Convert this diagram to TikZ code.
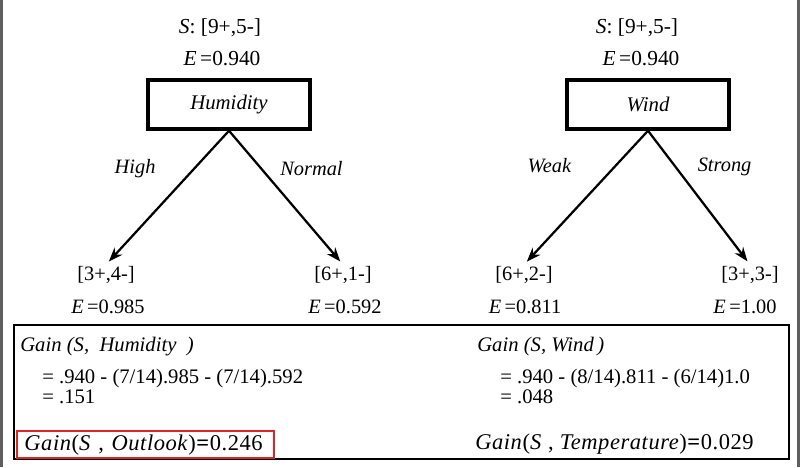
\documentclass[tikz,border=0pt]{standalone}
\usepackage{fontspec}
\setmainfont{Liberation Serif}
\usepackage{xcolor}
\definecolor{framegray}{RGB}{95, 95, 95}
\definecolor{bestred}{RGB}{225, 35, 35}
\usepackage{tikz}
\usetikzlibrary{arrows.meta}
\tikzset{
  attrbox/.style={draw=black, line width=2.6pt,
    minimum width=4.05cm, minimum height=1.22cm,
    font=\fontsize{14.8}{16}\selectfont\itshape},
  setlabel/.style={inner sep=1pt, font=\fontsize{15.2}{17}\selectfont},
  leaflabel/.style={inner sep=1pt, font=\fontsize{14.5}{16}\selectfont},
  branchlabel/.style={inner sep=1pt, font=\fontsize{14.5}{16}\selectfont\itshape},
  splitarrow/.style={-{Stealth[length=10pt,width=7.5pt]}, line width=1.6pt,
    shorten >=3pt},
  gainbox/.style={draw=black, line width=1.1pt,
    minimum width=19.375cm, minimum height=3.35cm},
  gainline/.style={anchor=west, align=left, inner sep=0pt,
    font=\fontsize{14.7}{12}\selectfont},
  bestfont/.style={inner sep=0pt, anchor=west,
    font=\fontsize{16}{18}\selectfont\addfontfeatures{LetterSpace=2.5}},
  bestbox/.style={draw=bestred, line width=1.1pt, anchor=west,
    inner xsep=5.45pt, inner ysep=1.5pt, text width=172pt,
    text height=12pt, text depth=4pt, align=left,
    font=\fontsize{16}{18}\selectfont\addfontfeatures{LetterSpace=2.5}},
  sideframe/.style={draw=framegray, line width=1.5pt}
}

\begin{document}
\begin{tikzpicture}[x=0.025cm, y=-0.025cm]
  \useasboundingbox (0,0) rectangle (800,467);

  % slide edges
  \draw[sideframe] (1.5,0) -- (1.5,467);
  \draw[sideframe] (798.5,0) -- (798.5,467);

  % split on Humidity
  \node[setlabel] (hset) at (220,28) {\textit{S}: [9+,5-]};
  \node[setlabel] (hent) at (222,59) {\textit{E}\,=0.940};
  \node[attrbox]  (hum)  at (229,104.5) {Humidity};

  \node[leaflabel] (hhigh)   at (106,275) {[3+,4-]};
  \node[leaflabel] (hhighe)  at (108,307) {\textit{E}\,=0.985};
  \node[leaflabel] (hnorm)   at (343,275) {[6+,1-]};
  \node[leaflabel] (hnorme)  at (345,307) {\textit{E}\,=0.592};

  \draw[splitarrow] (hum.south) -- node[branchlabel, pos=0.28, left=26pt] {High} (hhigh.north);
  \draw[splitarrow] (hum.south) -- node[branchlabel, pos=0.28, right=12pt] {Normal} (hnorm.north);

  % split on Wind
  \node[setlabel] (wset) at (637,28) {\textit{S}: [9+,5-]};
  \node[setlabel] (went) at (641,59) {\textit{E}\,=0.940};
  \node[attrbox]  (wind) at (648,104.5) {Wind};

  \node[leaflabel] (wweak)    at (524,275) {[6+,2-]};
  \node[leaflabel] (wweake)   at (525,307) {\textit{E}\,=0.811};
  \node[leaflabel] (wstrong)  at (750,275) {[3+,3-]};
  \node[leaflabel] (wstronge) at (745,307) {\textit{E}\,=1.00};

  \draw[splitarrow] (wind.south) -- node[branchlabel, pos=0.26, left=30pt] {Weak} (wweak.north);
  \draw[splitarrow] (wind.south) -- node[branchlabel, pos=0.27, right=14pt] {Strong} (wstrong.north);

  % gains
  \node[gainbox] (calc) at (401.5,392) {};
  \node[gainline] (hgain) at (20,347) {\textit{Gain (S,\ \ Humidity\ \ )}};
  \node[gainline] (hcalc) at (42,386.5) {= .940 - (7/14).985 - (7/14).592\\= .151};
  \node[gainline] (wgain) at (477,347) {\textit{Gain (S, Wind\,)}};
  \node[gainline] (wcalc) at (500,386.5) {= .940 - (8/14).811 - (6/14)1.0\\= .048};

  \node[bestbox] (outlook) at (16,444.5) {\textit{Gain}(\textit{S} , \textit{Outlook})\textbf{=}0.246};
  \node[bestfont] (temp) at (475,444) {\textit{Gain}(\textit{S} , \textit{Temperature})\textbf{=}0.029};

\end{tikzpicture}
\end{document}
